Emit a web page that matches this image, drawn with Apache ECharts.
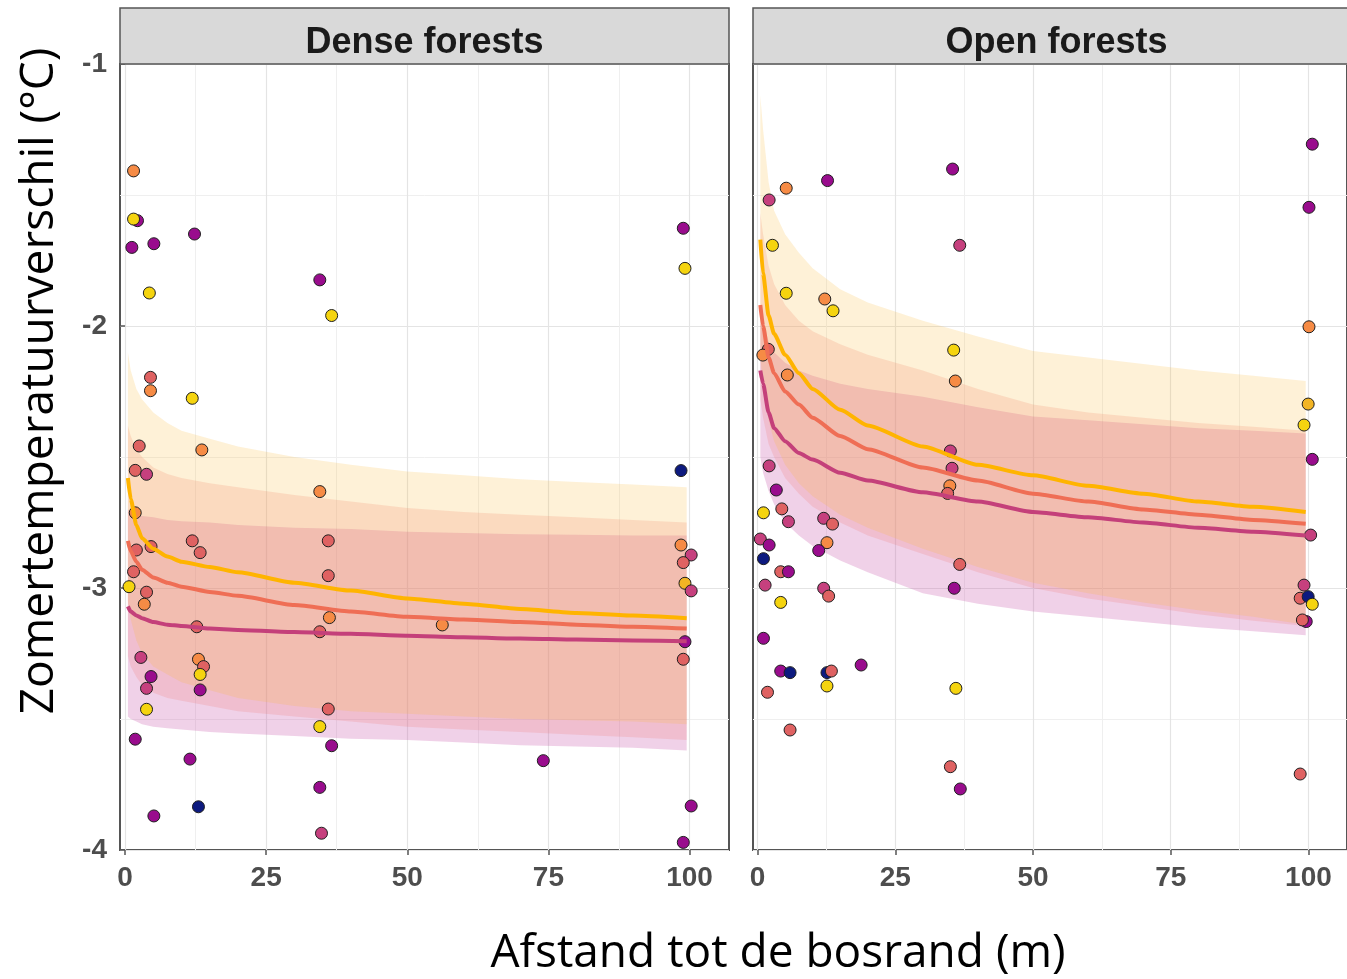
<!DOCTYPE html>
<html>
<head>
<meta charset="utf-8">
<title>Zomertemperatuurverschil</title>
<script src="https://cdn.jsdelivr.net/npm/echarts@6/dist/echarts.min.js"></script>
<style>
  html, body { margin: 0; padding: 0; background: #fff; }
  #chart { width: 1347px; height: 979px; }
</style>
</head>
<body>
<div id="chart"></div>
<script>
var xTicks = [0, 25, 50, 75, 100];
var xMinorTicks = [12.5, 37.5, 62.5, 87.5];
var panelNames = ['Dense forests', 'Open forests'];

var fitDist = [0.5, 1, 2, 3, 5, 7.5, 10, 15, 20, 30, 40, 50, 60, 70, 80, 90, 99.5];

// Dense forests: curves en banden
var denseYellowFit = [-2.58, -2.66, -2.76, -2.81, -2.85, -2.88, -2.90, -2.92, -2.94, -2.98, -3.01, -3.04, -3.06, -3.08, -3.095, -3.105, -3.115];
var denseSalmonFit = [-2.82, -2.86, -2.90, -2.93, -2.96, -2.98, -2.995, -3.015, -3.03, -3.065, -3.09, -3.11, -3.12, -3.13, -3.14, -3.148, -3.155];
var densePinkFit = [-3.07, -3.09, -3.105, -3.115, -3.13, -3.14, -3.145, -3.155, -3.16, -3.168, -3.175, -3.182, -3.188, -3.193, -3.197, -3.20, -3.203];
var denseYellowHi = [-2.10, -2.17, -2.24, -2.28, -2.33, -2.37, -2.40, -2.43, -2.46, -2.50, -2.53, -2.555, -2.57, -2.585, -2.595, -2.605, -2.615];
var denseYellowLo = [-3.05, -3.12, -3.20, -3.25, -3.30, -3.33, -3.36, -3.39, -3.42, -3.45, -3.47, -3.48, -3.49, -3.50, -3.505, -3.51, -3.52];
var denseSalmonHi = [-2.38, -2.42, -2.47, -2.50, -2.54, -2.565, -2.58, -2.60, -2.615, -2.645, -2.67, -2.695, -2.71, -2.72, -2.73, -2.74, -2.75];
var denseSalmonLo = [-3.26, -3.30, -3.34, -3.37, -3.40, -3.42, -3.43, -3.45, -3.47, -3.49, -3.51, -3.53, -3.54, -3.55, -3.56, -3.57, -3.58];
var densePinkHi = [-2.70, -2.71, -2.72, -2.725, -2.73, -2.74, -2.745, -2.75, -2.76, -2.77, -2.775, -2.785, -2.79, -2.795, -2.797, -2.80, -2.80];
var densePinkLo = [-3.49, -3.50, -3.51, -3.52, -3.53, -3.535, -3.54, -3.55, -3.555, -3.565, -3.575, -3.58, -3.59, -3.60, -3.605, -3.61, -3.62];

// Open forests: curves en banden
var openYellowFit = [-1.67, -1.80, -1.96, -2.03, -2.11, -2.18, -2.24, -2.32, -2.38, -2.46, -2.53, -2.57, -2.61, -2.64, -2.67, -2.69, -2.71];
var openSalmonFit = [-1.92, -2.00, -2.12, -2.18, -2.25, -2.30, -2.35, -2.42, -2.47, -2.54, -2.59, -2.64, -2.67, -2.70, -2.72, -2.74, -2.755];
var openPinkFit = [-2.17, -2.22, -2.33, -2.39, -2.44, -2.485, -2.51, -2.56, -2.59, -2.635, -2.67, -2.71, -2.73, -2.75, -2.77, -2.785, -2.80];
var openYellowHi = [-1.12, -1.25, -1.45, -1.56, -1.65, -1.72, -1.78, -1.86, -1.91, -1.98, -2.04, -2.095, -2.12, -2.145, -2.17, -2.19, -2.21];
var openYellowLo = [-2.12, -2.22, -2.36, -2.44, -2.53, -2.60, -2.65, -2.72, -2.77, -2.85, -2.92, -2.98, -3.02, -3.055, -3.085, -3.11, -3.14];
var openSalmonHi = [-1.57, -1.65, -1.77, -1.84, -1.92, -1.98, -2.02, -2.07, -2.11, -2.17, -2.24, -2.30, -2.33, -2.35, -2.37, -2.385, -2.40];
var openSalmonLo = [-2.28, -2.35, -2.45, -2.50, -2.58, -2.64, -2.69, -2.75, -2.80, -2.87, -2.94, -3.00, -3.04, -3.07, -3.10, -3.125, -3.145];
var openPinkHi = [-1.92, -1.98, -2.06, -2.10, -2.14, -2.17, -2.19, -2.22, -2.24, -2.27, -2.31, -2.345, -2.36, -2.375, -2.39, -2.40, -2.41];
var openPinkLo = [-2.50, -2.56, -2.63, -2.68, -2.75, -2.80, -2.84, -2.895, -2.94, -3.02, -3.06, -3.09, -3.11, -3.13, -3.15, -3.165, -3.18];

// meetpunten (afstand, temperatuurverschil, kleurklasse)
var denseDist = [1.5, 2.2, 1.5, 1.2, 5.1, 12.3, 4.3, 34.5, 36.6, 98.9, 99.2, 4.5, 4.5, 11.9, 2.5, 13.6, 1.8, 3.8, 34.5, 1.8,
  11.9, 36.0, 4.6, 2.0, 13.3, 1.5, 36.0, 0.7, 3.8, 3.4, 36.2, 12.7, 34.5, 56.2, 2.8, 13.0, 13.9, 13.3, 4.6, 3.8,
  13.3, 3.8, 36.0, 34.5, 1.8, 36.6, 11.5, 34.5, 13.0, 5.1, 34.8, 98.5, 98.5, 100.3, 98.9, 99.2, 100.3, 99.2, 98.9, 74.1,
  100.3, 98.9];
var denseTemp = [-1.408, -1.598, -1.592, -1.70, -1.686, -1.649, -1.874, -1.824, -1.96, -1.627, -1.78, -2.196, -2.247, -2.276, -2.458, -2.473, -2.551, -2.566, -2.632, -2.713,
  -2.82, -2.82, -2.842, -2.855, -2.865, -2.938, -2.953, -2.995, -3.016, -3.062, -3.113, -3.148, -3.167, -3.141, -3.265, -3.272, -3.30, -3.33, -3.338, -3.383,
  -3.389, -3.463, -3.462, -3.529, -3.577, -3.602, -3.653, -3.761, -3.835, -3.87, -3.936, -2.552, -2.836, -2.874, -2.903, -2.982, -3.011, -3.205, -3.272, -3.659,
  -3.832, -3.971];
var denseGroup = ['O', 'M', 'Y', 'M', 'M', 'M', 'Y', 'M', 'Y', 'M', 'Y', 'C', 'O', 'Y', 'C', 'O', 'C', 'P', 'O', 'O',
  'C', 'C', 'C', 'C', 'C', 'C', 'C', 'Y', 'C', 'O', 'O', 'C', 'C', 'O', 'P', 'O', 'C', 'Y', 'M', 'P',
  'M', 'Y', 'C', 'Y', 'M', 'M', 'M', 'M', 'N', 'M', 'P', 'N', 'O', 'P', 'C', 'G', 'P', 'M', 'C', 'M',
  'M', 'M'];

var openDist = [12.7, 5.2, 2.1, 35.4, 36.7, 2.7, 5.2, 12.2, 13.7, 100.7, 100.1, 100.1, 1.95, 0.96, 5.4, 35.6, 35.9, 35.0, 35.3, 34.9,
  34.5, 2.1, 3.4, 1.07, 4.4, 5.6, 12.0, 13.6, 0.5, 2.1, 12.6, 11.1, 1.07, 36.7, 4.2, 5.6, 1.37, 12.0, 12.9, 35.7,
  4.2, 1.07, 4.2, 5.9, 1.8, 12.6, 13.4, 12.6, 18.8, 5.9, 36.0, 35.0, 36.8, 99.95, 99.2, 100.7, 100.4, 99.2, 98.5, 99.95,
  100.7, 99.6, 98.9, 98.5];
var openTemp = [-1.445, -1.474, -1.519, -1.401, -1.692, -1.692, -1.875, -1.897, -1.942, -1.306, -1.547, -2.003, -2.089, -2.111, -2.187, -2.092, -2.21, -2.477, -2.543, -2.61,
  -2.639, -2.534, -2.626, -2.713, -2.698, -2.747, -2.734, -2.756, -2.813, -2.836, -2.827, -2.857, -2.888, -2.91, -2.938, -2.938, -2.989, -3.001, -3.031, -3.001,
  -3.055, -3.192, -3.317, -3.323, -3.398, -3.323, -3.317, -3.374, -3.294, -3.542, -3.383, -3.682, -3.767, -2.298, -2.378, -2.509, -2.798, -2.989, -3.039, -3.033,
  -3.062, -3.128, -3.122, -3.71];
var openGroup = ['M', 'O', 'P', 'M', 'P', 'Y', 'Y', 'O', 'Y', 'M', 'M', 'O', 'C', 'O', 'O', 'Y', 'O', 'P', 'P', 'O',
  'C', 'P', 'M', 'Y', 'C', 'P', 'P', 'C', 'P', 'M', 'O', 'M', 'N', 'C', 'C', 'M', 'P', 'P', 'C', 'M',
  'Y', 'M', 'M', 'N', 'C', 'N', 'C', 'Y', 'M', 'C', 'Y', 'C', 'M', 'G', 'Y', 'M', 'P', 'P', 'C', 'N',
  'Y', 'M', 'C', 'C'];

var pointColors = { Y: '#f5d40f', G: '#f2b424', O: '#f68b45', C: '#df6262', P: '#c6407e', M: '#990c8d', N: '#0d1a7f' };

// layout van de twee facetten
var PANEL_TOP = 64, PANEL_H = 786, STRIP_TOP = 8;
var panelLeft = [120, 753];
var panelWidth = [609, 607];
var xMin = [-0.9, -0.83];
var X_MAX = 107;

var axisFont = '"Liberation Sans", Arial, sans-serif';
var titleFont = '"Open Sans", sans-serif';

var chart = echarts.init(document.getElementById('chart'), null, { renderer: 'canvas' });

function ribbon(lo, hi, color, p) {
  var rows = fitDist.map(function (d, i) { return [d, lo[i], hi[i]]; });
  return {
    type: 'custom', xAxisIndex: p * 2, yAxisIndex: p, z: 2, silent: true,
    data: rows,
    encode: { x: 0, y: [1, 2] },
    renderItem: function (params, api) {
      if (params.dataIndex !== 0) return null;
      var pts = [];
      for (var i = 0; i < rows.length; i++) pts.push(api.coord([rows[i][0], rows[i][2]]));
      for (var j = rows.length - 1; j >= 0; j--) pts.push(api.coord([rows[j][0], rows[j][1]]));
      return { type: 'polygon', shape: { points: pts }, style: { fill: color } };
    }
  };
}

function fitLine(ys, color, p) {
  return {
    type: 'line', xAxisIndex: p * 2, yAxisIndex: p, z: 4, silent: true,
    symbol: 'none', smooth: 0.2, smoothMonotone: 'x',
    data: fitDist.map(function (d, i) { return [d, ys[i]]; }),
    lineStyle: { color: color, width: 4 }
  };
}

function points(dist, temp, group, p) {
  return {
    type: 'scatter', xAxisIndex: p * 2, yAxisIndex: p, z: 3, symbolSize: 12,
    data: dist.map(function (d, i) {
      return { value: [d, temp[i]], itemStyle: { color: pointColors[group[i]] } };
    }),
    itemStyle: { borderColor: '#1f1f1f', borderWidth: 1, opacity: 1 }
  };
}

var grids = [], xAxes = [], yAxes = [], graphics = [];
panelNames.forEach(function (name, p) {
  grids.push({
    left: panelLeft[p], top: PANEL_TOP, width: panelWidth[p], height: PANEL_H,
    show: true, backgroundColor: '#fff', borderColor: '#555', borderWidth: 2
  });
  xAxes.push({
    type: 'value', gridIndex: p, min: xMin[p], max: X_MAX, position: 'bottom',
    axisLine: { show: false },
    axisTick: { show: true, length: 5, customValues: xTicks, lineStyle: { color: '#555', width: 1.5 } },
    axisLabel: { customValues: xTicks, margin: 14, color: '#4d4d4d', fontSize: 28, fontWeight: 'bold', fontFamily: axisFont },
    splitLine: { show: true, lineStyle: { color: '#e4e4e4', width: 1.2 } }
  });
  xAxes.push({
    type: 'value', gridIndex: p, min: xMin[p], max: X_MAX, position: 'top',
    axisLine: { show: false },
    axisTick: { show: false, customValues: xMinorTicks },
    axisLabel: { show: false, customValues: xMinorTicks },
    splitLine: { show: true, lineStyle: { color: '#efefef', width: 1 } }
  });
  yAxes.push({
    type: 'value', gridIndex: p, min: -4, max: -1, interval: 1,
    axisLine: { show: false },
    axisTick: { show: p === 0, length: 6, lineStyle: { color: '#555', width: 1.5 } },
    axisLabel: { show: p === 0, margin: 13, color: '#4d4d4d', fontSize: 28, fontWeight: 'bold', fontFamily: axisFont },
    splitLine: { show: true, lineStyle: { color: '#e4e4e4', width: 1.2 } },
    minorTick: { show: false, splitNumber: 2 },
    minorSplitLine: { show: true, lineStyle: { color: '#efefef', width: 1 } }
  });
  graphics.push({
    type: 'rect', z: 10,
    shape: { x: panelLeft[p], y: STRIP_TOP, width: panelWidth[p], height: PANEL_TOP - STRIP_TOP },
    style: { fill: '#d9d9d9', stroke: '#555', lineWidth: 1.5 }
  });
  graphics.push({
    type: 'text', z: 11,
    x: panelLeft[p] + panelWidth[p] / 2, y: 43,
    style: { text: name, font: 'bold 36px ' + axisFont, fill: '#1a1a1a', align: 'center', verticalAlign: 'middle', textAlign: 'center', textVerticalAlign: 'middle' }
  });
});

graphics.push({
  type: 'text', x: 40, y: 381, rotation: Math.PI / 2,
  style: { text: 'Zomertemperatuurverschil (°C)', font: '46px ' + titleFont, fill: '#000', align: 'center', verticalAlign: 'middle', textAlign: 'center', textVerticalAlign: 'middle' }
});
graphics.push({
  type: 'text', x: 778, y: 954,
  style: { text: 'Afstand tot de bosrand (m)', font: '46px ' + titleFont, fill: '#000', align: 'center', verticalAlign: 'middle', textAlign: 'center', textVerticalAlign: 'middle' }
});

var pinkBand = 'rgba(195,71,163,0.25)';
var salmonBand = 'rgba(239,116,110,0.2)';
var yellowBand = 'rgba(251,183,53,0.2)';

var series = [
  ribbon(densePinkLo, densePinkHi, pinkBand, 0),
  ribbon(denseSalmonLo, denseSalmonHi, salmonBand, 0),
  ribbon(denseYellowLo, denseYellowHi, yellowBand, 0),
  ribbon(openPinkLo, openPinkHi, pinkBand, 1),
  ribbon(openSalmonLo, openSalmonHi, salmonBand, 1),
  ribbon(openYellowLo, openYellowHi, yellowBand, 1),
  points(denseDist, denseTemp, denseGroup, 0),
  points(openDist, openTemp, openGroup, 1),
  fitLine(densePinkFit, '#c4407a', 0),
  fitLine(denseSalmonFit, '#ef6e55', 0),
  fitLine(denseYellowFit, '#ffb400', 0),
  fitLine(openPinkFit, '#c4407a', 1),
  fitLine(openSalmonFit, '#ef6e55', 1),
  fitLine(openYellowFit, '#ffb400', 1)
];

chart.setOption({
  animation: false,
  backgroundColor: '#fff',
  grid: grids,
  xAxis: xAxes,
  yAxis: yAxes,
  series: series,
  graphic: graphics
});

window.addEventListener('resize', chart.resize);
</script>
</body>
</html>
